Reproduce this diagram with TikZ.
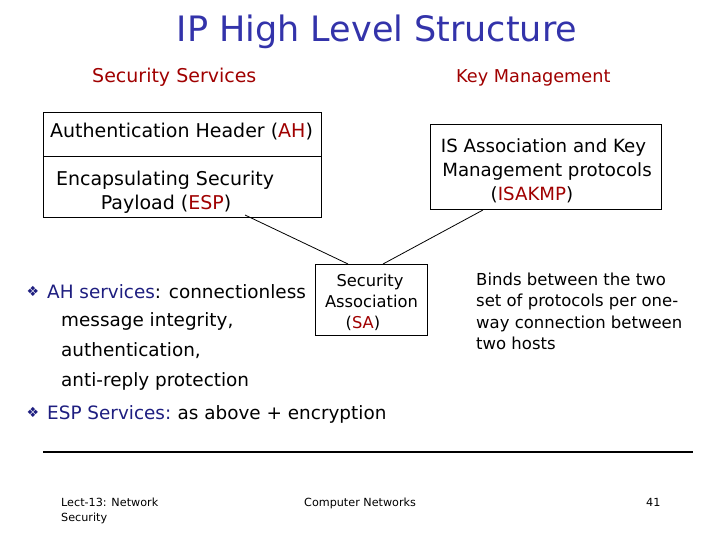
\documentclass[tikz,border=0pt]{standalone}
\usepackage{fontspec}
\setmainfont{DejaVu Sans}
\definecolor{titleblue}{RGB}{51,51,170}
\definecolor{darkred}{RGB}{160,0,0}
\definecolor{navy}{RGB}{30,30,128}
\newcommand{\fs}[1]{\fontsize{#1}{#1}\selectfont}
\begin{document}
\begin{tikzpicture}[x=1pt,y=-1pt,
  txt/.style={inner sep=0pt, anchor=base west},
  ctxt/.style={inner sep=0pt, anchor=base},
  box/.style={draw, line width=1pt, inner sep=0pt},
  conn/.style={line width=0.8pt}]
\useasboundingbox[fill=white] (0,0) rectangle (720,540);
% title and headings
\node[ctxt, text=titleblue, font=\fs{35}] (title) at (377,42) {IP High Level Structure};
\node[txt, text=darkred, font=\fs{19}] (ss) at (92,83) {Security Services};
\node[txt, text=darkred, font=\fs{17.7}] (km) at (456,83) {Key Management};
% left box
\node[box, minimum width=278pt, minimum height=105pt] (lbox) at (182,165.5) {};
\coordinate (divL) at (43,157);
\coordinate (divR) at (321,157);
\draw[line width=1pt] (divL) -- (divR);
\node[ctxt, font=\fs{19}] (ah) at (181.5,137.5) {Authentication Header (\textcolor{darkred}{AH})};
\node[ctxt, font=\fs{19}] (esp1) at (165,186) {Encapsulating Security};
\node[ctxt, font=\fs{19}] (esp2) at (166,210) {Payload (\textcolor{darkred}{ESP})};
% right box
\node[box, minimum width=231pt, minimum height=85pt] (rbox) at (545.5,167.5) {};
\node[ctxt, font=\fs{18.2}] (is1) at (543.5,153) {IS Association and Key};
\node[ctxt, font=\fs{18.2}] (is2) at (547,177) {Management protocols};
\node[ctxt, font=\fs{18.2}] (is3) at (532,200.5) {(\textcolor{darkred}{ISAKMP})};
% SA box
\node[box, minimum width=112pt, minimum height=71pt] (sa) at (371,299.5) {};
\node[ctxt, font=\fs{16.3}] (sa1) at (370,286) {Security};
\node[ctxt, font=\fs{16.3}] (sa2) at (371.5,307) {Association};
\node[ctxt, font=\fs{16.3}] (sa3) at (363,328.5) {(\textcolor{darkred}{SA})};
% connectors
\coordinate (c1) at (245,215);
\coordinate (c2) at (348,264);
\coordinate (c3) at (483,210);
\coordinate (c4) at (383,264);
\draw[conn] (c1) -- (c2);
\draw[conn] (c3) -- (c4);
% bullets
\node[ctxt, text=navy, font=\fs{14}] (b1) at (33,296.5) {❖};
\node[txt, font=\fs{18.4}] (l1) at (47,298) {\textcolor{navy}{AH services}: connectionless};
\node[txt, font=\fs{18.4}] (l2) at (61,326) {message integrity,};
\node[txt, font=\fs{18.4}] (l3) at (61,356) {authentication,};
\node[txt, font=\fs{18.4}] (l4) at (61,386) {anti-reply protection};
\node[ctxt, text=navy, font=\fs{14}] (b2) at (33,417.5) {❖};
\node[txt, font=\fs{18.4}] (l5) at (47,419) {\textcolor{navy}{ESP Services:}\hspace{0.35em}as above + encryption};
% right text
\node[txt, font=\fs{16.5}] (r1) at (476,285) {Binds between the two};
\node[txt, font=\fs{16.5}] (r2) at (476,306.5) {set of protocols per one-};
\node[txt, font=\fs{16.5}] (r3) at (476,328) {way connection between};
\node[txt, font=\fs{16.5}] (r4) at (476,349) {two hosts};
% footer
\coordinate (fl) at (43,452);
\coordinate (fr) at (693,452);
\draw[line width=1.5pt] (fl) -- (fr);
\node[txt, font=\fs{11.2}] (f1) at (61,506.5) {Lect-13: Network};
\node[txt, font=\fs{11.2}] (f2) at (61,521) {Security};
\node[txt, font=\fs{11.2}] (f3) at (304,506.5) {Computer Networks};
\node[txt, font=\fs{11.2}] (f4) at (646,506.5) {41};
\end{tikzpicture}
\end{document}
